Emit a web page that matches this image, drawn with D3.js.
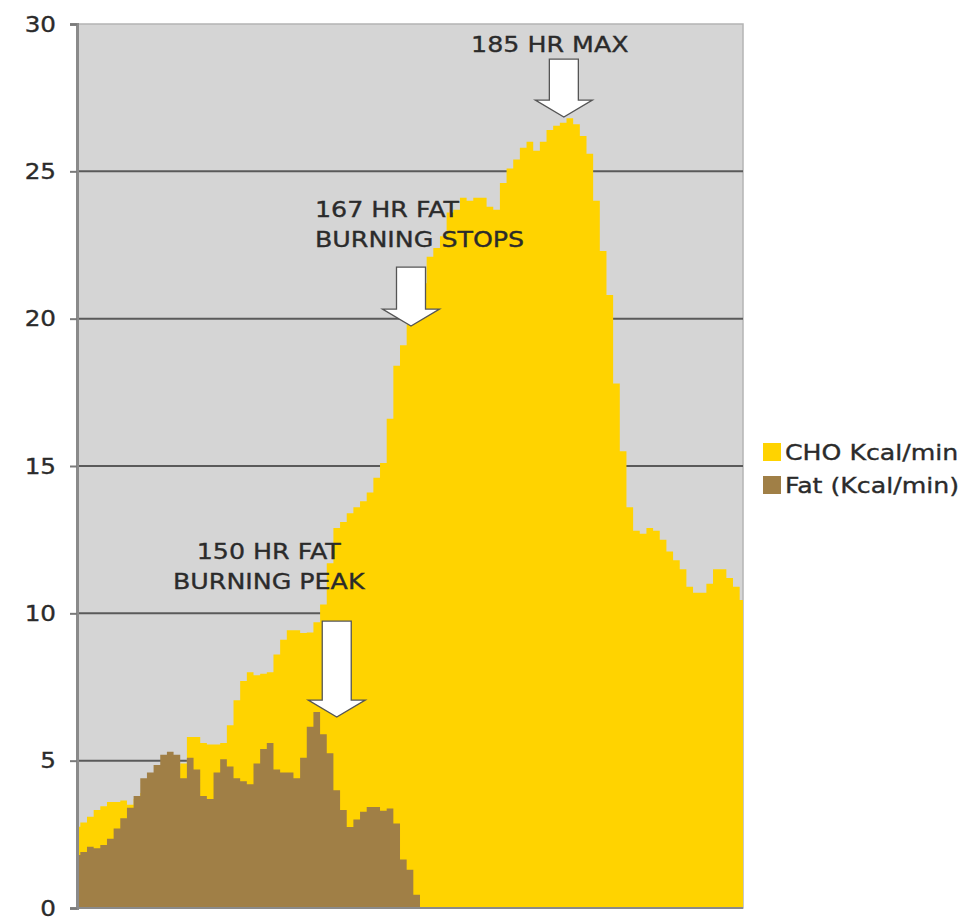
<!DOCTYPE html>
<html>
<head>
<meta charset="utf-8">
<script src="https://cdn.jsdelivr.net/npm/d3@7"></script>
<style>
  html, body { margin: 0; padding: 0; background: #fff; }
  svg { display: block; }
  text { font-family: "DejaVu Sans", Verdana, sans-serif; fill: #2b2b2b; stroke: #2b2b2b; stroke-width: 0.35px; }
</style>
</head>
<body>
<svg id="chart" width="974" height="917"></svg>
<script>
// Carbohydrate burn rate per sample (Kcal/min)
const choKcal = [
  2.76, 2.9, 3.1, 3.33, 3.45, 3.6, 3.6, 3.65, 3.5, 3.7,
  3.9, 4.1, 4.3, 4.5, 4.6, 4.8, 4.9, 5.8, 5.8, 5.6,
  5.55, 5.55, 5.6, 6.2, 7.05, 7.7, 8.0, 7.9, 7.95, 8.0,
  8.6, 9.1, 9.43, 9.43, 9.33, 9.35, 9.7, 10.3, 11.7, 12.9,
  13.1, 13.4, 13.6, 13.8, 14.1, 14.6, 15.1, 16.6, 18.4, 19.1,
  19.8, 20.3, 21.2, 22.1, 22.4, 22.8, 23.6, 23.7, 24.1, 24.0,
  24.1, 24.1, 23.8, 23.7, 24.6, 25.1, 25.4, 25.8, 26.0, 25.7,
  26.0, 26.4, 26.55, 26.65, 26.8, 26.6, 26.2, 25.6, 24.0, 22.3,
  20.8, 17.8, 15.5, 13.6, 12.8, 12.7, 12.9, 12.8, 12.5, 12.1,
  11.8, 11.5, 10.9, 10.7, 10.7, 11.0, 11.5, 11.5, 11.2, 10.9,
  10.45
];

// Fat burn rate per sample (Kcal/min)
const fatKcal = [
  1.8, 1.9, 2.08, 2.03, 2.14, 2.35, 2.7, 3.05, 3.4, 3.8,
  4.4, 4.6, 4.85, 5.2, 5.3, 5.2, 4.4, 5.1, 4.7, 3.8,
  3.7, 4.6, 5.05, 4.8, 4.4, 4.3, 4.2, 4.9, 5.4, 5.6,
  4.7, 4.6, 4.6, 4.4, 5.1, 6.15, 6.65, 5.9, 5.25, 4.0,
  3.33, 2.75, 3.0, 3.27, 3.43, 3.43, 3.3, 3.38, 2.87, 1.65,
  1.3, 0.45, 0, 0, 0, 0, 0, 0, 0, 0,
  0, 0, 0, 0, 0, 0, 0, 0, 0, 0,
  0, 0, 0, 0, 0, 0, 0, 0, 0, 0,
  0, 0, 0, 0, 0, 0, 0, 0, 0, 0,
  0, 0, 0, 0, 0, 0, 0, 0, 0, 0,
  0
];

const yTicks = [0, 5, 10, 15, 20, 25, 30];

const seriesNames = ["CHO Kcal/min", "Fat (Kcal/min)"];
const seriesColors = ["#ffd300", "#a07f46"];

// Heart-rate callouts: sample index and value where each arrow points
const calloutLines = [
  ["185 HR MAX"],
  ["167 HR FAT", "BURNING STOPS"],
  ["150 HR FAT", "BURNING PEAK"]
];
const calloutIndex = [73.1, 50.15, 39.0];
const calloutValue = [26.84, 19.75, 6.48];

const svg = d3.select("#chart");
const plot = { left: 77, right: 743, top: 24, bottom: 908 };
const fontStack = "'DejaVu Sans', Verdana, sans-serif";

const x = d3.scaleLinear().domain([0, choKcal.length - 1]).range([plot.left, plot.right]);
const y = d3.scaleLinear().domain([0, 30]).range([plot.bottom, plot.top]);

// Stretch a text horizontally so it keeps the wide Verdana-like proportions
function widen(sel, factor) {
  sel.each(function () {
    const w = this.getComputedTextLength();
    d3.select(this).attr("textLength", w * factor).attr("lengthAdjust", "spacingAndGlyphs");
  });
}

// Plot background
svg.append("rect")
  .attr("x", plot.left).attr("y", plot.top)
  .attr("width", plot.right - plot.left).attr("height", plot.bottom - plot.top)
  .attr("fill", "#d5d5d5")
  .attr("stroke", "#b4b4b4").attr("stroke-width", 1.5);

// Horizontal gridlines
svg.append("g").selectAll("line")
  .data(yTicks.filter(t => t > 0 && t < 30))
  .join("line")
  .attr("x1", plot.left).attr("x2", plot.right)
  .attr("y1", d => y(d)).attr("y2", d => y(d))
  .attr("stroke", "#5a5a5a").attr("stroke-width", 2);

// Areas (fat drawn in front of carbohydrate)
const area = vals => d3.area()
  .x((d, i) => x(i))
  .y0(y(0))
  .y1(d => y(d))
  .curve(d3.curveStep)(vals);

svg.append("path").attr("d", area(choKcal)).attr("fill", seriesColors[0]);
svg.append("path").attr("d", area(fatKcal)).attr("fill", seriesColors[1]);

// Y axis
const yAxis = d3.axisLeft(y).tickValues(yTicks).tickSize(7).tickPadding(14);
const yg = svg.append("g").attr("transform", `translate(${plot.left},0)`).call(yAxis);
yg.select(".domain").attr("stroke", "#8a8a8a").attr("stroke-width", 3);
yg.selectAll(".tick line").attr("stroke", "#7a7a7a").attr("stroke-width", 2);
yg.selectAll(".tick text")
  .style("font-family", fontStack)
  .style("font-size", "22px").attr("fill", "#2b2b2b")
  .call(widen, 1.12);

// Bottom axis line
svg.append("line")
  .attr("x1", plot.left).attr("x2", plot.right)
  .attr("y1", y(0)).attr("y2", y(0))
  .attr("stroke", "#8a8a8a").attr("stroke-width", 2);

// Down arrow: shaft 29px wide, head 57px wide
function arrowPath(tx, ty, shaftLen) {
  const hw = 14.5, headW = 28.5, headH = 17;
  const sTop = ty - headH - shaftLen;
  return `M${tx - hw},${sTop} L${tx + hw},${sTop} L${tx + hw},${ty - headH} ` +
         `L${tx + headW},${ty - headH} L${tx},${ty} L${tx - headW},${ty - headH} ` +
         `L${tx - hw},${ty - headH} Z`;
}

const shaftLens = [41, 42, 79];
const textOffsets = [
  { dx: -14, dy: -65, anchor: "middle" },
  { dx: -96, dy: -109, anchor: "start" },
  { dx: -68, dy: -158, anchor: "middle" }
];

calloutLines.forEach((lines, k) => {
  const tx = x(calloutIndex[k]), ty = y(calloutValue[k]);
  const g = svg.append("g");
  g.append("path")
    .attr("d", arrowPath(tx, ty, shaftLens[k]))
    .attr("fill", "#ffffff").attr("stroke", "#555").attr("stroke-width", 1.3)
    .attr("stroke-linejoin", "miter");
  const o = textOffsets[k];
  g.selectAll("text").data(lines).join("text")
    .attr("x", tx + o.dx)
    .attr("y", (d, i) => ty + o.dy + i * 30)
    .attr("text-anchor", o.anchor)
    .style("font-size", "22px")
    .text(d => d)
    .call(widen, 1.15);
});

// Legend
const lg = svg.append("g").attr("transform", "translate(763,443)");
seriesNames.forEach((name, i) => {
  lg.append("rect").attr("x", 0).attr("y", i * 33).attr("width", 18).attr("height", 18)
    .attr("fill", seriesColors[i]);
  lg.append("text").attr("x", 22).attr("y", i * 33 + 17)
    .style("font-size", "21px").text(name)
    .call(widen, 1.2);
});
</script>
</body>
</html>
